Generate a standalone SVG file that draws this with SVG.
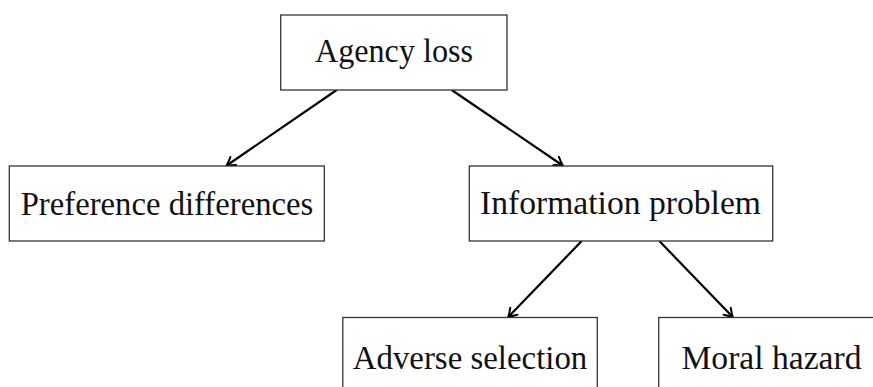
<svg xmlns="http://www.w3.org/2000/svg" width="873" height="387" viewBox="0 0 873 387">
<style>
.box{fill:#fff;stroke:#333;stroke-width:1.3}
.lbl{font-family:"Liberation Serif","DejaVu Serif",serif;font-size:33px;fill:#111;text-anchor:middle}
.edge{stroke:#000;stroke-width:2.2;fill:none;marker-end:url(#ah)}
</style>
<defs>
<marker id="ah" viewBox="-10 -6 12 12" refX="0" refY="0" markerWidth="12" markerHeight="12" markerUnits="userSpaceOnUse" orient="auto">
<path d="M-8,-5 Q-3,-1.5 0,0 Q-3,1.5 -8,5" fill="none" stroke="#000" stroke-width="2" stroke-linecap="round"/>
</marker>
</defs>
<g id="connectors">
<line class="edge" x1="336.7" y1="90" x2="226.7" y2="165.5"/>
<line class="edge" x1="451.7" y1="90" x2="562.7" y2="165.5"/>
<line class="edge" x1="581.7" y1="241" x2="508.3" y2="317"/>
<line class="edge" x1="659.3" y1="241" x2="732.7" y2="317"/>
</g>
<g id="agency-loss">
<rect class="box" x="280.7" y="15" width="226.3" height="75"/>
<text class="lbl" x="394" y="62" textLength="158" lengthAdjust="spacingAndGlyphs">Agency loss</text>
</g>
<g id="preference-differences">
<rect class="box" x="9.3" y="166" width="315" height="75"/>
<text class="lbl" x="167" y="215" textLength="292.6" lengthAdjust="spacingAndGlyphs">Preference differences</text>
</g>
<g id="information-problem">
<rect class="box" x="469.3" y="166" width="303.4" height="75"/>
<text class="lbl" x="620.5" y="214" textLength="281" lengthAdjust="spacingAndGlyphs">Information problem</text>
</g>
<g id="adverse-selection">
<rect class="box" x="342.8" y="317.5" width="254.5" height="75"/>
<text class="lbl" x="470" y="368.6" textLength="234.5" lengthAdjust="spacingAndGlyphs">Adverse selection</text>
</g>
<g id="moral-hazard">
<rect class="box" x="658.7" y="317.5" width="225.6" height="75"/>
<text class="lbl" x="771.5" y="368.6" textLength="180" lengthAdjust="spacingAndGlyphs">Moral hazard</text>
</g>
</svg>
